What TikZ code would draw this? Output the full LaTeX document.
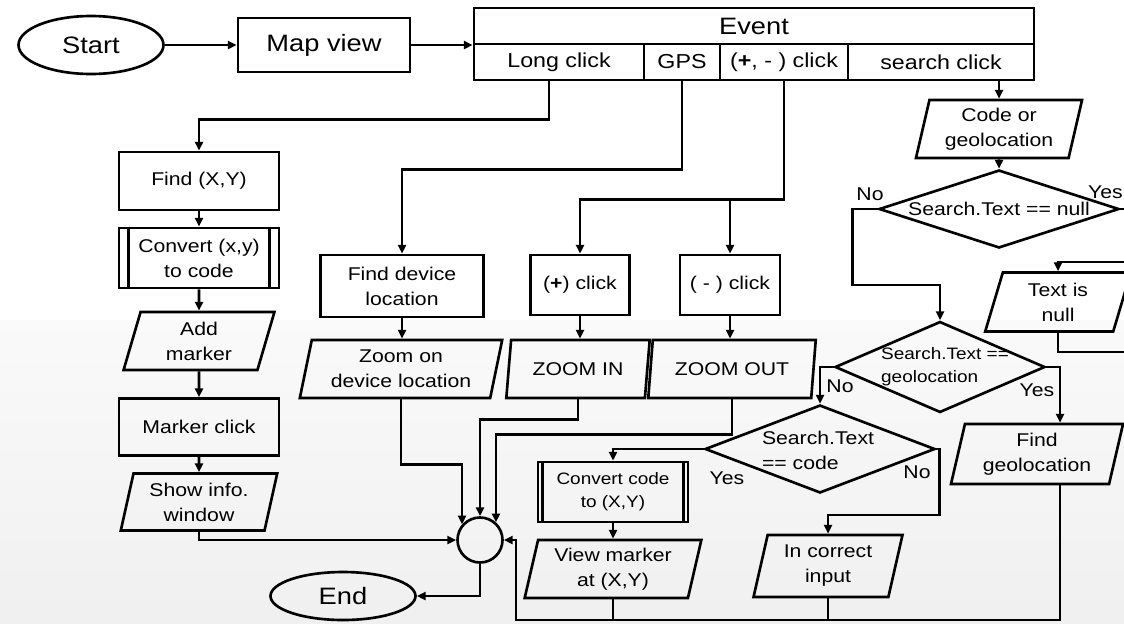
\documentclass[tikz,border=0pt]{standalone}
\usepackage{fontspec}
\setmainfont{Liberation Sans}[FakeStretch=1.15]
\usetikzlibrary{arrows.meta,shapes.geometric}
\newcommand\fsN{\fontsize{10.5}{14.2}\selectfont}
\newcommand\fsB{\fontsize{13.5}{16}\selectfont}
\newcommand\fsM{\fontsize{11.5}{14}\selectfont}
\newcommand\fsS{\fontsize{9.4}{13}\selectfont}
\begin{document}
\begin{tikzpicture}[x=0.02cm,y=-0.02cm,
  every node/.style={font=\fsN, inner sep=0pt, align=center},
  mw/.style={minimum width=#1*0.02cm},
  mh/.style={minimum height=#1*0.02cm},
  ln/.style={line width=1.5pt},
  arr/.style={ln,-{Triangle[length=5pt,width=4.5pt]}},
  box/.style={draw, ln, rectangle},
  para/.style={draw, ln, trapezium, trapezium left angle=76, trapezium right angle=104, trapezium stretches=true},
  dia/.style={draw, ln, diamond},
  term/.style={draw, ln, ellipse}
]
\clip (0,0) rectangle (1124,623);
\fill[white] (0,0) rectangle (1124,623);
\shade[top color=black!2, bottom color=black!6] (0,320) rectangle (1124,623);

% top row
\node[term, mw=145, mh=58, font=\fsB] (start) at (91,45) {Start};
\node[box, mw=172, mh=54, font=\fsB] (map) at (324,45) {Map view};
\node[box, mw=560, mh=36, font=\fsB] (ev) at (754,26) {Event};
\node[box, mw=170, mh=36, font=\fsM] (lc) at (559,62) {Long click};
\node[box, mw=76, mh=36, font=\fsM] (gps) at (682,62) {GPS};
\node[box, mw=128, mh=36, font=\fsM] (pm) at (784,62) {(\textbf{+}, - ) click};
\node[box, mw=186, mh=36, font=\fsM] (sc) at (941,62) {search click};

% left column
\node[box, mw=160, mh=58] (find) at (199,181) {Find (X,Y)};
\node[box, mw=160, mh=60] (conv) at (199,258) {Convert (x,y)\\to code};
\node[para, mw=151, mh=58] (addm) at (199,341) {Add\\marker};
\node[box, mw=160, mh=57] (mclick) at (199,427) {Marker click};
\node[para, mw=157, mh=57] (show) at (199,502) {Show info.\\window};

% middle
\node[box, mw=163, mh=62] (fdl) at (402,286) {Find device\\location};
\node[para, mw=203, mh=58] (zdl) at (401,369) {Zoom on\\device location};
\node[box, mw=99, mh=60] (plus) at (580,285) {(\textbf{+}) click};
\node[box, mw=100, mh=60] (minus) at (730,285) {( - ) click};
\node[para, mw=144, mh=58] (zin) at (578,369) {ZOOM IN};
\node[para, mw=168, mh=58] (zout) at (732,369) {ZOOM OUT};
\node[circle, draw, ln, minimum size=0.9cm] (circ) at (480,540) {};
\node[term, mw=145, mh=48, font=\fsB] (end) at (343,596) {End};

% right side
\node[para, mw=167, mh=58] (code) at (999,129) {Code or\\geolocation};
\node[dia, mw=240, mh=78] (d1) at (999,209) {};
\node (d1t) at (d1) {Search.Text == null};
\node[para, mw=146, mh=59] (tin) at (1058,302) {Text is\\null};
\node[dia, mw=210, mh=91] (d2) at (940,367) {};
\node[align=left, font=\fsS] (d2t) at (945,367) {Search.Text ==\\geolocation};
\node[dia, mw=230, mh=88] (d3) at (820,449) {};
\node[align=left] (d3t) at (818,450) {Search.Text\\== code};
\node[para, mw=173, mh=60] (fgeo) at (1037,454) {Find\\geolocation};
\node[box, mw=150, mh=60, font=\fsS] (conv2) at (613,492) {Convert code\\to (X,Y)};
\node[para, mw=178, mh=58] (vm) at (613,569) {View marker\\at (X,Y)};
\node[para, mw=149, mh=62] (inc) at (828,566) {In correct\\input};

% predefined-process side bars
\draw[ln] ([xshift=0.22cm]conv.north west) -- ([xshift=0.22cm]conv.south west);
\draw[ln] ([xshift=-0.22cm]conv.north east) -- ([xshift=-0.22cm]conv.south east);
\draw[ln] ([xshift=0.12cm]conv2.north west) -- ([xshift=0.12cm]conv2.south west);
\draw[ln] ([xshift=-0.12cm]conv2.north east) -- ([xshift=-0.12cm]conv2.south east);

% labels
\node (no1) at (870,194) {No};
\node[anchor=east] (yes1) at (1123,192) {Yes};
\node (no2) at (840,386) {No};
\node (yes2) at (1037,390) {Yes};
\node (yes3) at (727,478) {Yes};
\node (no3) at (917,472) {No};

% coordinates
\coordinate (busL) at (516,620);
\coordinate (offA) at (1150,209);
\coordinate (offB) at (1150,262);
\coordinate (offC) at (1150,352);

% connectors
\draw[arr] (start.east) -- (map.west);
\draw[arr] (map.east) -- (map.east -| ev.west);
\draw[arr] ([xshift=-0.2cm]lc.south) -- ++(0,38) -| (find.north);
\draw[arr] (find.south) -- (conv.north);
\draw[arr] (conv.south) -- (addm.north);
\draw[arr] (addm.south) -- (mclick.north);
\draw[arr] (mclick.south) -- (show.north);
\draw[arr] (show.south) |- (circ.west);

\draw[arr] (gps.south) -- ++(0,88) -| (fdl.north);
\draw[arr] (fdl.south) -- (fdl.south |- zdl.north);
\draw[arr] (pm.south) -- ++(0,118) coordinate (pmj) -| (plus.north);
\draw[arr] (minus.north |- pmj) -- (minus.north);
\draw[arr] (plus.south) -- (plus.south |- zin.north);
\draw[arr] (minus.south) -- (minus.south |- zout.north);

\draw[arr] (zdl.south) -- ++(0,65) -| (circ.139);
\draw[arr] (zin.south) -- ++(0,20) -| (circ.north);
\draw[arr] (zout.south) -- ++(0,35) -| (circ.48);
\draw[arr] (circ.south) |- (end.east);

\draw[arr] ([xshift=0.46cm]fgeo.south) |- (busL) |- (circ.east);
\draw[ln] (vm.south) -- (vm.south |- busL);
\draw[ln] (inc.south) -- (inc.south |- busL);

\draw[arr] (code.north |- sc.south) -- (code.north);
\draw[arr] (code.south) -- (d1.north);
\draw[arr] (d1.west) -- ++(-25,0) -- ++(0,76) -| (d2.north);
\draw[arr] (d1.east) -- (offA) -- (offB) -| (tin.north);
\draw[ln] (tin.south) |- (offC);
\draw[arr] (d2.west) -| (d3.north);
\draw[arr] (d2.east) -| ([xshift=0.46cm]fgeo.north);
\draw[arr] (d3.west) -| (conv2.north);
\draw[arr] (d3.east) -- ++(3,0) -- ++(0,66) -| (inc.north);
\draw[arr] (conv2.south) -- (conv2.south |- vm.north);
\end{tikzpicture}
\end{document}
